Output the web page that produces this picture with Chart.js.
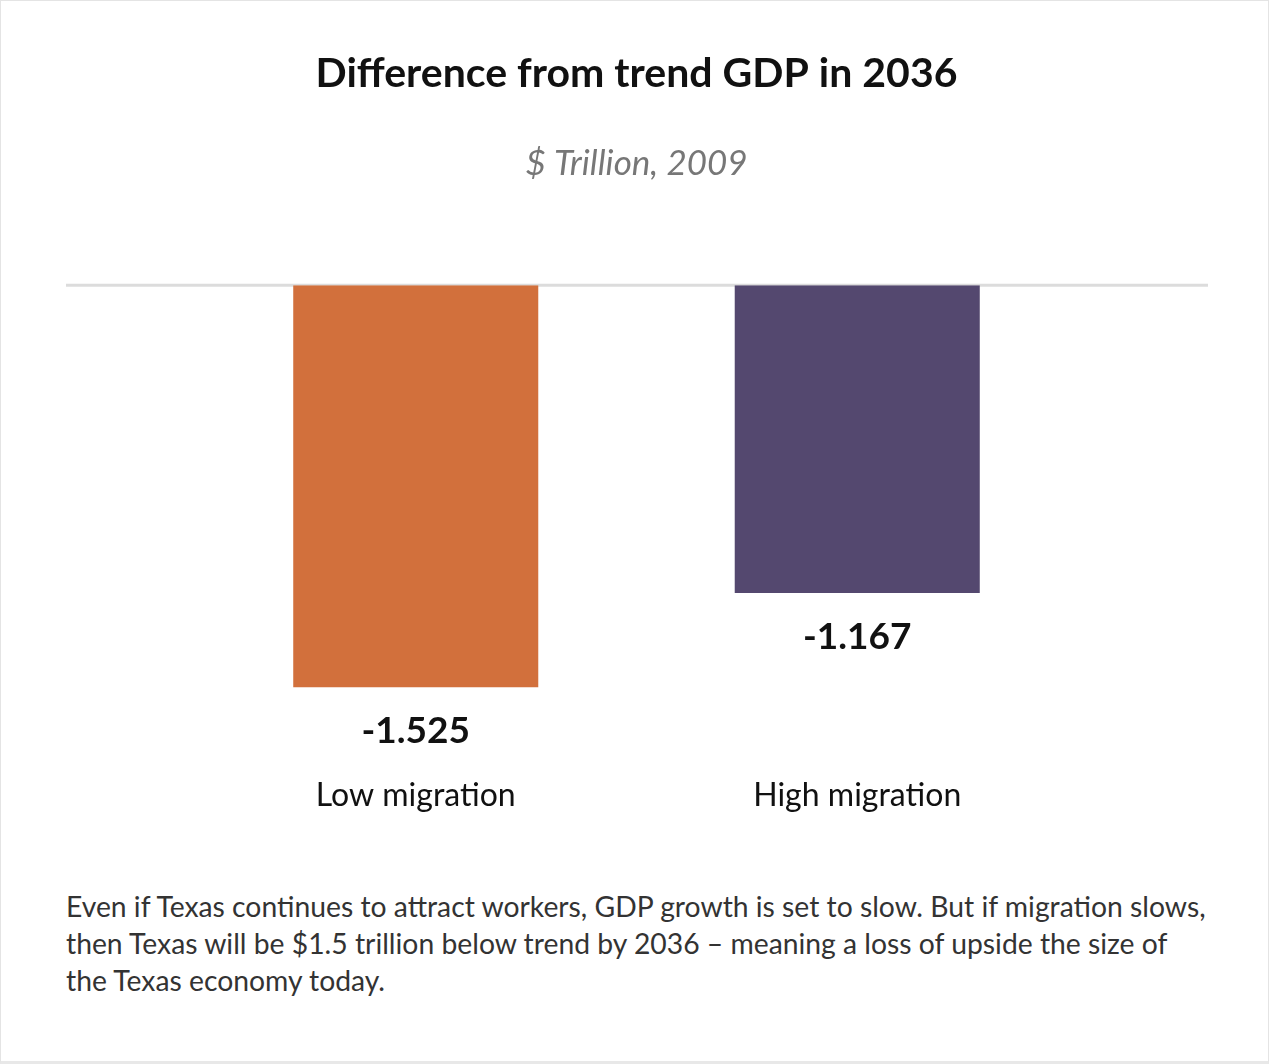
<!DOCTYPE html>
<html>
<head>
<meta charset="utf-8">
<script src="https://cdn.jsdelivr.net/npm/chart.js@4.4.1/dist/chart.umd.min.js"></script>
<style>
  html, body { margin: 0; padding: 0; background: #fff; }
  #wrap { position: relative; width: 1267px; height: 1060px; border: 1px solid #e4e4e4; border-bottom: 3px solid #e8e8e8; }
  #myChart { position: absolute; left: 0; top: 0; }
  #note {
    position: absolute; left: 65px; top: 887px;
    font-family: Lato, "Open Sans", sans-serif; white-space: nowrap;
    font-size: 28.3px; line-height: 37px; color: #333;
  }
</style>
</head>
<body>
<div id="wrap">
  <canvas id="myChart" width="1269" height="842"></canvas>
  <div id="note">Even if Texas continues to attract workers, GDP growth is set to slow. But if migration slows,<br>then Texas will be $1.5 trillion below trend by 2036 – meaning a loss of upside the size of<br>the Texas economy today.</div>
</div>
<script>
const categories = ['Low migration', 'High migration'];
const gdpDiff = [-1.525, -1.167];
const barColors = ['#d2703c', '#54486f'];
const valueLabels = ['-1.525', '-1.167'];

const FONT = 'Lato, "Open Sans", sans-serif';

// zero line wider than the plot area, like in the original
const zeroLine = {
  id: 'zeroLine',
  beforeDatasetsDraw(chart) {
    const y = chart.scales.y.getPixelForValue(0);
    const ctx = chart.ctx;
    ctx.save();
    ctx.strokeStyle = '#dcdcdc';
    ctx.lineWidth = 3;
    ctx.beginPath();
    ctx.moveTo(65, y);
    ctx.lineTo(1207, y);
    ctx.stroke();
    ctx.restore();
  }
};

// numbers under the bars
const barValues = {
  id: 'barValues',
  afterDatasetsDraw(chart) {
    const ctx = chart.ctx;
    const meta = chart.getDatasetMeta(0);
    ctx.save();
    ctx.font = 'bold 37px ' + FONT;
    ctx.fillStyle = '#111';
    ctx.textAlign = 'center';
    ctx.textBaseline = 'middle';
    meta.data.forEach((bar, i) => {
      ctx.fillText(valueLabels[i], bar.x, bar.y + 44);
    });
    ctx.restore();
  }
};

const ctx = document.getElementById('myChart').getContext('2d');
const myChart = new Chart(ctx, {
  type: 'bar',
  data: {
    labels: categories,
    datasets: [{
      data: gdpDiff,
      backgroundColor: barColors,
      barPercentage: 1,
      categoryPercentage: 0.555
    }]
  },
  options: {
    responsive: false,
    animation: false,
    layout: { padding: { left: 194, right: 192, top: 0, bottom: 0 } },
    plugins: {
      legend: { display: false },
      tooltip: { enabled: false },
      title: {
        display: true,
        text: 'Difference from trend GDP in 2036',
        color: '#111',
        font: { family: FONT, size: 41, weight: 'bold' },
        padding: { top: 48, bottom: 45 }
      },
      subtitle: {
        display: true,
        text: '$ Trillion, 2009',
        color: '#777',
        font: { family: FONT, size: 35, style: 'italic' },
        padding: { top: 0, bottom: 100 }
      }
    },
    scales: {
      x: {
        grid: { display: false },
        border: { display: false },
        ticks: { color: '#111', font: { family: FONT, size: 32 }, padding: 28 }
      },
      y: {
        display: false,
        min: -1.727,
        max: 0
      }
    }
  },
  plugins: [zeroLine, barValues]
});
</script>
</body>
</html>
